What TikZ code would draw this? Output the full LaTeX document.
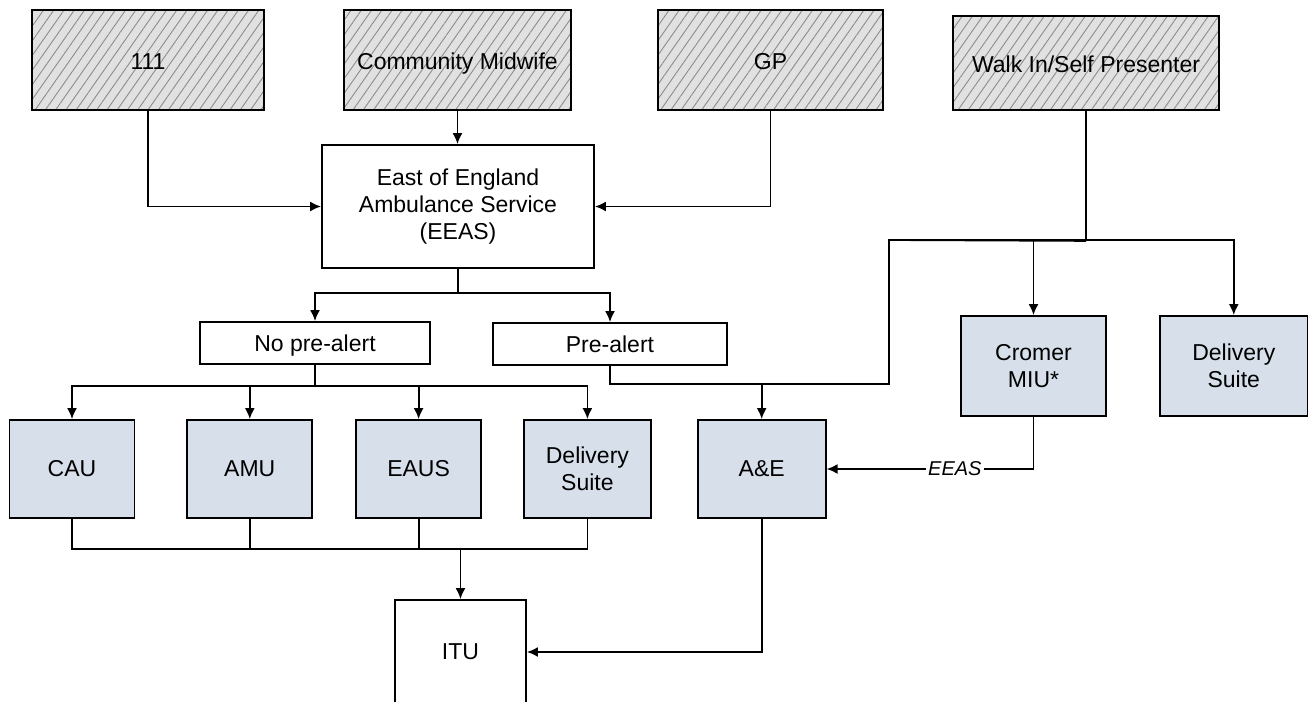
\documentclass[tikz,border=0pt]{standalone}
\usepackage{fontspec}
\setmainfont{Liberation Sans}
\usetikzlibrary{arrows.meta,calc,positioning,patterns.meta}
\definecolor{srcgray}{RGB}{225,225,225}
\definecolor{unitblue}{RGB}{214,223,234}
\tikzset{
        block/.style = {draw, rectangle, line width=0.9pt,
            align=center, inner sep=2pt},
        source/.style = {block, minimum height=50pt,
            text height=2.1ex, text depth=0.3ex,
            preaction={fill=srcgray},
            pattern={Lines[angle=55,distance=4.2pt,line width=0.45pt]},
            pattern color=gray!90},
        unit/.style = {block, fill=unitblue,
            minimum width=62.5pt,
            minimum height=49pt},
        choice/.style = {block, minimum height=21pt,
            text height=1.9ex, text depth=0.3ex},
        arrow/.style = {draw, line width=0.9pt, -{Latex[length=5.5pt,width=5pt]}},
        link/.style = {draw, line width=0.9pt},
    }

\begin{document}
\begin{tikzpicture}[x=0.5pt, y=-0.5pt, font=\fontsize{11.5}{13.5}\selectfont]
    \useasboundingbox (0,0) rectangle (1308,702);

    % referral sources
    \node[source, minimum width=116pt] (s111) at (148,60) {111};
    \node[source, minimum width=113.5pt] (smw) at (457.5,60) {Community Midwife};
    \node[source, minimum width=112.5pt] (sgp) at (770.5,60) {GP};
    \node[source, minimum width=133pt, minimum height=47pt] (swi) at (1086,63) {Walk In/Self Presenter};

    \node[block, minimum width=136pt, minimum height=61.5pt] (eeas) at (458,206.5)
        {East of England\\Ambulance Service\\(EEAS)};

    \node[choice, minimum width=115pt] (nopre) at (315,343) {No pre-alert};
    \node[choice, minimum width=117pt] (pre) at (610,344) {Pre-alert};

    % receiving units
    \node[unit] (cau) at (72,469) {CAU};
    \node[unit, right=25.5pt of cau] (amu) {AMU};
    \node[unit, right=21pt of amu] (eaus) {EAUS};
    \node[unit, minimum width=63.5pt, right=20.5pt of eaus] (dsl) {Delivery\\Suite};
    \node[unit, minimum width=64pt, right=22.5pt of dsl] (ae) {A\&E};

    \node[unit, minimum width=72.5pt, minimum height=50pt] (cmiu) at (1033.5,366) {Cromer\\MIU*};
    \node[unit, minimum width=74pt, minimum height=50pt, right=26pt of cmiu] (dsr) {Delivery\\Suite};

    \node[block, minimum width=65.5pt, minimum height=52pt] (itu) at (460.5,652) {ITU};

    % into EEAS
    \draw[arrow] (s111.south) |- (eeas.west);
    \draw[arrow] (smw.south) -- (smw.south |- eeas.north);
    \draw[arrow] (sgp.south) |- (eeas.east);

    \coordinate (split) at ($(eeas.south)+(0,24)$);
    \draw[link] (eeas.south) -- (split);
    \draw[arrow] (split) -| (nopre.north);
    \draw[arrow] (split) -| (pre.north);

    \coordinate (lowsplit) at ($(nopre.south)+(0,21)$);
    \draw[link] (nopre.south) -- (lowsplit);
    \draw[arrow] (lowsplit) -| (cau.north);
    \draw[arrow] (lowsplit) -| (amu.north);
    \draw[arrow] (lowsplit) -| (eaus.north);
    \draw[arrow] (lowsplit) -| (dsl.north);

    % pre-alert and walk in
    \coordinate (prebar) at ($(pre.south)+(0,18)$);
    \coordinate (wibar) at ($(swi.south)+(0,130)$);
    \coordinate (wileft) at (889,240);
    \draw[link] (pre.south) -- (prebar) -| (wileft) -- (wibar);
    \draw[link] (swi.south) -- (wibar);
    \draw[arrow] (ae.north |- prebar) -- (ae.north);
    \draw[arrow] (wileft) -| (cmiu.north);
    \draw[arrow] (wileft) -| (dsr.north);

    \draw[arrow] (cmiu.south) |- (ae.east)
        node[pos=0.69, fill=white, inner sep=1pt, font=\itshape\fontsize{10}{12}\selectfont] {EEAS};

    % down to ITU
    \coordinate (itubar) at ($(cau.south)+(0,30)$);
    \draw[link] (cau.south) |- (dsl.south |- itubar) -- (dsl.south);
    \draw[link] (amu.south) -- (amu.south |- itubar);
    \draw[link] (eaus.south) -- (eaus.south |- itubar);
    \draw[arrow] (itu.north |- itubar) -- (itu.north);
    \draw[arrow] (ae.south) |- (itu.east);
\end{tikzpicture}
\end{document}
